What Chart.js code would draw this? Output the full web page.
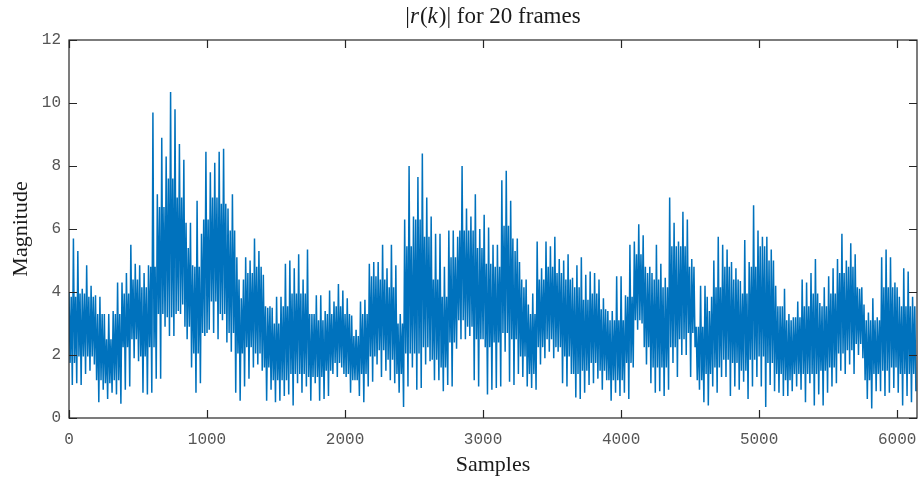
<!DOCTYPE html>
<html>
<head>
<meta charset="utf-8">
<script src="https://cdn.jsdelivr.net/npm/chart.js@4"></script>
<style>
  html, body { margin: 0; padding: 0; background: #fff; }
  #wrap { width: 923px; height: 478px; }
</style>
</head>
<body>
<div id="wrap"><canvas id="c" width="923" height="478"></canvas></div>
<script>
// |r(k)| over 20 frames, 6144 samples. The trace is too dense to read point
// by point, so it is kept as values:
//  - per block of 32 samples: the tallest spike and the deepest dip
//  - per pair of blocks: the upper and lower edge of the solid core band
// Each block is drawn as peak -> core low -> core high -> dip.
var BLOCK = 32;
var GROUP = 2;
var N_SAMPLES = 6144;

var blockPeak = [
  4.0, 5.7, 5.3, 4.1, 4.85, 4.2, 3.9, 3.85, 3.3, 3.3,
  3.4, 4.3, 4.3, 4.6, 5.5, 4.9, 4.85, 4.6, 4.85, 9.7,
  7.1, 8.9, 8.3, 10.35, 9.8, 8.7, 8.2, 5.4, 4.85, 6.9,
  5.85, 8.45, 7.8, 8.1, 8.45, 8.55, 6.65, 7.1, 5.1, 3.8,
  5.1, 5.0, 5.7, 5.3, 4.55, 3.5, 3.5, 3.85, 3.85, 4.9,
  5.0, 4.75, 5.2, 4.4, 5.35, 3.3, 3.9, 3.9, 3.4, 4.05,
  3.7, 4.25, 4.05, 3.8, 3.25, 2.8, 3.7, 3.75, 4.9, 4.95,
  4.95, 5.5, 4.75, 5.5, 4.85, 3.3, 6.3, 8.0, 6.4, 7.65,
  8.4, 7.0, 6.4, 5.85, 5.85, 4.8, 5.95, 5.95, 5.75, 8.0,
  6.65, 6.4, 7.1, 6.0, 6.45, 6.05, 5.5, 5.5, 7.55, 7.85,
  6.9, 5.3, 4.95, 4.15, 3.6, 3.95, 5.6, 4.75, 5.6, 5.45,
  5.75, 5.05, 5.0, 5.2, 4.45, 4.85, 5.1, 4.55, 4.65, 4.6,
  4.4, 3.8, 3.4, 3.4, 4.5, 4.5, 3.9, 5.5, 5.6, 6.15,
  5.8, 4.6, 4.6, 5.5, 4.9, 4.45, 7.0, 6.2, 5.6, 6.55,
  6.3, 5.05, 2.9, 4.2, 4.2, 3.4, 5.0, 5.75, 5.5, 5.35,
  4.95, 4.75, 4.35, 5.65, 4.95, 6.75, 5.95, 5.75, 5.75, 5.35,
  4.2, 3.55, 4.1, 3.3, 3.2, 3.7, 4.4, 4.3, 4.6, 5.05,
  3.65, 4.15, 4.5, 4.75, 5.05, 5.85, 5.0, 5.55, 5.2, 4.1,
  3.6, 3.35, 3.8, 3.2, 5.1, 5.35, 5.1, 4.3, 3.85, 4.75,
  4.65, 3.85
];

var blockDip = [
  1.05, 1.1, 1.05, 1.4, 1.5, 1.7, 0.5, 0.9, 0.6, 0.8,
  0.75, 0.45, 0.9, 1.0, 1.9, 1.8, 0.8, 0.75, 0.8, 1.25,
  1.25, 2.9, 2.6, 2.6, 3.4, 3.6, 2.5, 1.6, 0.8, 1.1,
  2.6, 2.8, 2.7, 2.5, 3.1, 2.4, 2.1, 0.8, 0.55, 1.0,
  1.25, 1.6, 1.7, 1.5, 0.55, 0.9, 0.5, 0.55, 0.7, 0.75,
  0.4, 1.1, 0.8, 1.0, 0.55, 1.1, 0.55, 0.6, 0.7, 1.4,
  1.3, 1.6, 1.3, 0.8, 1.2, 0.7, 0.5, 1.0, 1.15, 1.7,
  1.3, 1.5, 1.2, 1.1, 0.8, 0.35, 1.0, 1.6, 0.9, 0.95,
  1.7, 1.8, 1.2, 1.2, 0.85, 1.05, 1.0, 2.2, 2.5, 2.5,
  2.6, 1.2, 1.0, 2.5, 0.75, 0.9, 0.95, 1.0, 2.1, 1.15,
  1.05, 1.4, 1.3, 1.0, 0.95, 0.9, 1.7, 1.9, 2.1, 1.9,
  2.1, 1.1, 1.0, 1.4, 0.65, 0.6, 0.8, 1.05, 1.1, 1.25,
  0.9, 1.2, 0.55, 0.8, 0.7, 0.8, 0.6, 1.6, 2.8, 3.0,
  1.7, 1.1, 0.8, 0.85, 0.7, 0.9, 1.75, 1.3, 2.0, 2.0,
  1.3, 2.25, 0.9, 0.5, 0.4, 1.0, 0.8, 1.3, 1.3, 0.7,
  1.0, 0.9, 1.15, 0.6, 1.0, 1.3, 1.0, 0.35, 1.05, 0.85,
  0.8, 0.7, 0.7, 0.85, 1.0, 0.9, 0.5, 1.1, 0.4, 0.75,
  0.4, 0.8, 1.0, 1.1, 1.5, 1.4, 1.7, 1.4, 2.0, 1.9,
  0.6, 0.3, 0.85, 0.85, 0.7, 0.8, 0.95, 0.8, 0.4, 0.7,
  0.5, 0.85
];

var coreHigh = [
  3.85, 3.95, 3.85, 3.3, 2.5, 3.3, 3.95, 4.4, 4.15, 4.8,
  6.7, 7.6, 7.0, 6.2, 4.8, 6.3, 7.0, 6.8, 5.95, 4.4,
  4.6, 4.8, 3.55, 3.0, 3.55, 3.95, 3.95, 3.3, 3.1, 3.3,
  3.55, 3.3, 2.6, 3.3, 4.5, 4.4, 4.15, 3.0, 5.45, 6.3,
  5.75, 4.4, 3.85, 5.1, 5.95, 5.95, 5.4, 4.9, 4.8, 6.1,
  5.7, 4.4, 3.3, 4.4, 4.8, 4.6, 4.4, 4.15, 3.75, 3.95,
  3.45, 3.1, 3.1, 3.85, 5.2, 4.8, 4.4, 4.15, 5.45, 5.45,
  4.8, 2.9, 3.85, 4.15, 4.8, 4.4, 3.95, 4.8, 5.45, 5.0,
  3.55, 3.1, 3.2, 3.55, 3.95, 3.55, 3.95, 4.6, 4.8, 4.15,
  3.1, 3.1, 4.15, 4.15, 3.55, 3.55
];

var coreLow = [
  1.75, 1.95, 1.95, 1.2, 1.1, 1.2, 2.25, 2.5, 1.95, 2.25,
  3.3, 3.2, 3.3, 2.9, 2.05, 2.7, 3.7, 3.3, 2.7, 2.05,
  2.25, 2.05, 1.6, 1.2, 1.2, 1.4, 1.4, 1.3, 1.3, 1.5,
  1.75, 1.4, 1.2, 1.4, 1.95, 2.15, 1.85, 1.4, 2.05, 2.05,
  2.25, 1.85, 1.6, 2.4, 3.1, 2.9, 2.5, 2.25, 2.4, 2.7,
  2.5, 1.95, 1.4, 2.25, 2.5, 2.25, 1.95, 1.4, 1.5, 1.75,
  1.5, 1.2, 1.2, 1.75, 3.1, 2.25, 1.6, 1.6, 2.25, 2.5,
  2.7, 1.2, 1.4, 1.6, 1.85, 1.75, 1.5, 1.85, 1.95, 1.75,
  1.4, 1.2, 1.4, 1.4, 1.4, 1.5, 1.6, 2.05, 2.15, 2.35,
  1.2, 1.4, 1.5, 1.6, 1.4, 1.4
];

var xTicks = [0, 1000, 2000, 3000, 4000, 5000, 6000];
var yTicks = [0, 2, 4, 6, 8, 10, 12];

var LINE = "#0072bd";
var AXIS = "#262626";
var TICK_TEXT = "#555555";
var LABEL_TEXT = "#1a1a1a";
var SERIF = "'Liberation Serif', 'DejaVu Serif', serif";
var MONO = "'Liberation Mono', monospace";

var trace = [];
blockPeak.forEach(function (p, i) {
  var g = Math.floor(i / GROUP);
  var x0 = i * BLOCK;
  trace.push({ x: x0, y: p });
  trace.push({ x: x0 + 8, y: coreLow[g] });
  trace.push({ x: x0 + 16, y: coreHigh[g] });
  trace.push({ x: x0 + 24, y: blockDip[i] });
});

function setTicks(list) {
  return function (scale) {
    scale.ticks = list.map(function (v) { return { value: v }; });
  };
}

// MATLAB-style box: full frame plus short tick marks pointing inward on
// all four sides.
var boxPlugin = {
  id: "box",
  afterDraw: function (chart) {
    var ctx = chart.ctx;
    var a = chart.chartArea;
    var xs = chart.scales.x, ys = chart.scales.y;
    var len = 8;
    ctx.save();
    ctx.strokeStyle = AXIS;
    ctx.lineWidth = 1.2;
    ctx.strokeRect(a.left, a.top, a.right - a.left, a.bottom - a.top);
    ctx.beginPath();
    xTicks.forEach(function (v) {
      var px = Math.round(xs.getPixelForValue(v)) + 0.5;
      ctx.moveTo(px, a.bottom); ctx.lineTo(px, a.bottom - len);
      ctx.moveTo(px, a.top); ctx.lineTo(px, a.top + len);
    });
    yTicks.forEach(function (v) {
      var py = Math.round(ys.getPixelForValue(v)) + 0.5;
      ctx.moveTo(a.left, py); ctx.lineTo(a.left + len, py);
      ctx.moveTo(a.right, py); ctx.lineTo(a.right - len, py);
    });
    ctx.stroke();
    ctx.restore();
  }
};

// Title with the math part set in italics, like the LaTeX original.
var titleParts = [
  { t: "|", it: false },
  { t: "r", it: true },
  { t: "(", it: false },
  { t: "k", it: true },
  { t: ")|", it: false },
  { t: " for 20 frames", it: false }
];
var mathTitlePlugin = {
  id: "mathTitle",
  afterDraw: function (chart) {
    var ctx = chart.ctx;
    var a = chart.chartArea;
    var size = 23;
    ctx.save();
    ctx.fillStyle = LABEL_TEXT;
    ctx.textBaseline = "alphabetic";
    var total = 0;
    titleParts.forEach(function (p) {
      ctx.font = (p.it ? "italic " : "") + size + "px " + SERIF;
      p.w = ctx.measureText(p.t).width + (p.it ? 1 : 0);
      total += p.w;
    });
    var x = (a.left + a.right) / 2 - total / 2;
    titleParts.forEach(function (p) {
      ctx.font = (p.it ? "italic " : "") + size + "px " + SERIF;
      ctx.fillText(p.t, x, 23);
      x += p.w;
    });
    ctx.restore();
  }
};

new Chart(document.getElementById("c"), {
  type: "line",
  data: {
    datasets: [{
      data: trace,
      borderColor: LINE,
      borderWidth: 1.5,
      pointRadius: 0,
      tension: 0,
      fill: false
    }]
  },
  options: {
    responsive: false,
    animation: false,
    events: [],
    layout: { padding: { left: 0, right: 6, top: 40, bottom: 0 } },
    plugins: {
      legend: { display: false },
      tooltip: { enabled: false },
      title: { display: false }
    },
    scales: {
      x: {
        type: "linear",
        min: 0,
        max: N_SAMPLES,
        afterBuildTicks: setTicks(xTicks),
        afterFit: function (s) { s.height = 60; s.paddingRight = 0; s.paddingLeft = 0; },
        grid: { display: false, drawTicks: false },
        border: { display: false },
        ticks: {
          color: TICK_TEXT,
          padding: 12,
          maxRotation: 0,
          font: { family: MONO, size: 16 },
          callback: function (v) { return String(v); }
        },
        title: {
          display: true,
          text: "Samples",
          color: LABEL_TEXT,
          font: { family: SERIF, size: 22 },
          padding: { top: 0, bottom: 0 }
        }
      },
      y: {
        type: "linear",
        min: 0,
        max: 12,
        afterBuildTicks: setTicks(yTicks),
        afterFit: function (s) { s.width = 69; s.paddingTop = 0; s.paddingBottom = 0; },
        grid: { display: false, drawTicks: false },
        border: { display: false },
        ticks: {
          color: TICK_TEXT,
          padding: 8,
          font: { family: MONO, size: 16 },
          callback: function (v) { return String(v); }
        },
        title: {
          display: true,
          text: "Magnitude",
          color: LABEL_TEXT,
          font: { family: SERIF, size: 22 },
          padding: { top: 8, bottom: 0 }
        }
      }
    }
  },
  plugins: [boxPlugin, mathTitlePlugin]
});
</script>
</body>
</html>
